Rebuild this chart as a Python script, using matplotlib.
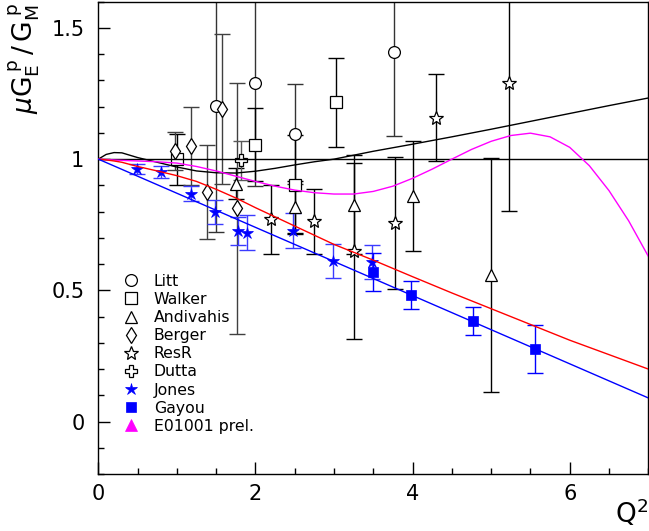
import matplotlib
matplotlib.use("Agg")
import matplotlib.pyplot as plt
from matplotlib.lines import Line2D
from matplotlib.ticker import MultipleLocator

# data
LITT_Q2 = [1.50, 2.00, 2.50, 3.76]
LITT_R = [1.202, 1.289, 1.095, 1.407]
LITT_ERR = [0.48, 0.39, 0.19, 0.318]

WALKER_Q2 = [1.00, 2.00, 2.50, 3.02]
WALKER_R = [0.999, 1.055, 0.903, 1.216]
WALKER_ERR = [0.097, 0.14, 0.19, 0.17]

ANDIVAHIS_Q2 = [1.75, 2.50, 3.25, 4.00, 5.00]
ANDIVAHIS_R = [0.907, 0.818, 0.827, 0.859, 0.557]
ANDIVAHIS_ERR = [0.06, 0.10, 0.19, 0.21, 0.446]

BERGER_Q2 = [0.98, 1.18, 1.38, 1.57, 1.76]
BERGER_R = [1.031, 1.050, 0.874, 1.190, 0.812]
BERGER_ERR = [0.071, 0.15, 0.18, 0.285, 0.477]

RESR_Q2 = [2.20, 2.75, 3.25, 3.77, 4.30, 5.23]
RESR_R = [0.770, 0.763, 0.650, 0.757, 1.158, 1.291]
RESR_ERR = [0.13, 0.125, 0.335, 0.25, 0.166, 0.49]

DUTTA_Q2 = [1.82]
DUTTA_R = [0.996]
DUTTA_ERR = [0.075]

JONES_Q2 = [0.49, 0.80, 1.18, 1.49, 1.78, 1.89, 2.48, 2.99, 3.48]
JONES_R = [0.962, 0.950, 0.869, 0.797, 0.726, 0.720, 0.727, 0.611, 0.608]
JONES_ERR = [0.02, 0.023, 0.028, 0.046, 0.053, 0.067, 0.067, 0.064, 0.064]

GAYOU_Q2 = [3.50, 3.98, 4.77, 5.56]
GAYOU_R = [0.570, 0.481, 0.384, 0.277]
GAYOU_ERR = [0.072, 0.054, 0.054, 0.091]

CURVE_Q2 = [0.0, 0.1, 0.2, 0.3, 0.5, 0.75, 1.0, 1.25, 1.5, 1.75, 2.0, 2.25, 2.5, 2.75,
            3.0, 3.5, 4.0, 4.5, 5.0, 5.5, 6.0, 6.5, 7.0]
BLACK_CURVE = [1.0, 1.018, 1.025, 1.024, 1.006, 0.988, 0.970, 0.955, 0.948, 0.947, 0.954,
               0.965, 0.978, 0.990, 1.000, 1.030, 1.057, 1.085, 1.114, 1.144, 1.174, 1.204, 1.233]
RED_CURVE = [1.0, 0.997, 0.993, 0.988, 0.972, 0.955, 0.937, 0.915, 0.885, 0.852, 0.815,
             0.780, 0.745, 0.710, 0.675, 0.615, 0.552, 0.490, 0.430, 0.370, 0.310, 0.255, 0.200]

MAGENTA_Q2 = [0.0, 0.25, 0.5, 0.75, 1.0, 1.25, 1.5, 1.75, 2.0, 2.25, 2.5, 2.75, 3.0, 3.25,
              3.5, 3.75, 4.0, 4.25, 4.5, 4.75, 5.0, 5.25, 5.5, 5.75, 6.0, 6.25, 6.5, 6.75, 7.0]
MAGENTA_CURVE = [1.0, 0.996, 0.993, 0.990, 0.985, 0.972, 0.955, 0.935, 0.915, 0.897, 0.882,
                 0.872, 0.867, 0.867, 0.877, 0.897, 0.927, 0.962, 1.000, 1.037, 1.068, 1.090,
                 1.099, 1.085, 1.045, 0.975, 0.880, 0.765, 0.630]

BLUE_Q2 = [0.0, 3.5, 7.0]
BLUE_CURVE = [1.0, 0.545, 0.09]

UNITY_Q2 = [0.0, 7.0]
UNITY = [1.0, 1.0]

LEGEND_LABELS = ["Litt", "Walker", "Andivahis", "Berger", "ResR", "Dutta", "Jones",
                 "Gayou", "E01001 prel."]

OPEN = dict(mfc="white", mec="black", mew=0.9)
STYLES = {
    "Litt": dict(marker="o", ms=8.5, **OPEN),
    "Walker": dict(marker="s", ms=8, **OPEN),
    "Andivahis": dict(marker="^", ms=9, **OPEN),
    "Berger": dict(marker="d", ms=8, **OPEN),
    "ResR": dict(marker="*", ms=10, **OPEN),
    "Dutta": dict(marker="P", ms=9, **OPEN),
    "Jones": dict(marker="*", ms=9, mfc="blue", mec="blue", mew=0.5),
    "Gayou": dict(marker="s", ms=7.5, mfc="blue", mec="blue", mew=0.5),
    "E01001 prel.": dict(marker="^", ms=8, mfc="magenta", mec="magenta", mew=0.5),
}

plt.rcParams["font.family"] = ["DejaVu Sans"]
plt.rcParams["mathtext.fontset"] = "dejavusans"

fig = plt.figure(figsize=(6.49, 5.31), dpi=100)
ax = fig.add_axes([0.1515, 0.1073, 0.8474, 0.8895])


def draw_series(name, q2, r, err, ecolor="black"):
    ax.errorbar(q2, r, yerr=err, fmt="none", ecolor=ecolor, elinewidth=1.0,
                capsize=6, capthick=1.0, zorder=2)
    ax.plot(q2, r, linestyle="none", zorder=3, **STYLES[name])


draw_series("Litt", LITT_Q2, LITT_R, LITT_ERR, ecolor="0.2")
draw_series("Walker", WALKER_Q2, WALKER_R, WALKER_ERR)
draw_series("Andivahis", ANDIVAHIS_Q2, ANDIVAHIS_R, ANDIVAHIS_ERR)
draw_series("Berger", BERGER_Q2, BERGER_R, BERGER_ERR, ecolor="0.25")
draw_series("ResR", RESR_Q2, RESR_R, RESR_ERR)
draw_series("Dutta", DUTTA_Q2, DUTTA_R, DUTTA_ERR, ecolor="0.35")
draw_series("Jones", JONES_Q2, JONES_R, JONES_ERR, ecolor="#3b3bff")
draw_series("Gayou", GAYOU_Q2, GAYOU_R, GAYOU_ERR, ecolor="blue")

ax.plot(UNITY_Q2, UNITY, color="black", lw=1.0, zorder=4)
ax.plot(CURVE_Q2, BLACK_CURVE, color="black", lw=1.0, zorder=4)
ax.plot(MAGENTA_Q2, MAGENTA_CURVE, color="magenta", lw=1.0, zorder=4)
ax.plot(CURVE_Q2, RED_CURVE, color="red", lw=1.0, zorder=4)
ax.plot(BLUE_Q2, BLUE_CURVE, color="blue", lw=1.0, zorder=4)

ax.set_xlim(0, 7)
ax.set_ylim(-0.2, 1.6)
ax.xaxis.set_major_locator(MultipleLocator(2))
ax.xaxis.set_minor_locator(MultipleLocator(0.5))
ax.yaxis.set_major_locator(MultipleLocator(0.5))
ax.yaxis.set_minor_locator(MultipleLocator(0.1))
ax.set_xticks([0, 2, 4, 6])
ax.set_xticklabels(["0", "2", "4", "6"])
ax.set_yticks([0, 0.5, 1, 1.5])
ax.set_yticklabels(["0", "0.5", "1", "1.5"])
ax.tick_params(which="both", direction="in", width=1.0, labelsize=15)
ax.tick_params(which="major", length=8.8)
ax.tick_params(which="minor", length=4.6)
ax.tick_params(axis="x", pad=7)
ax.tick_params(axis="y", pad=10)
for spine in ax.spines.values():
    spine.set_linewidth(1.0)

handles = [Line2D([0], [0], linestyle="none", **STYLES[name]) for name in LEGEND_LABELS]
leg = ax.legend(handles, LEGEND_LABELS, loc="upper left", bbox_to_anchor=(0.045, 0.424),
                frameon=False, fontsize=11.3, labelspacing=0.2, handlelength=1.0,
                handletextpad=0.95, borderaxespad=0, borderpad=0)

fig.text(24 / 649, 1 - 58 / 531,
         r"$\mu\mathrm{G}_{\mathrm{E}}^{\;\mathrm{p}}\,/\,\mathrm{G}_{\mathrm{M}}^{\;\mathrm{p}}$",
         rotation=90, ha="center", va="center", fontsize=19)
fig.text(0.998, 1 - 513 / 531, r"$\mathrm{Q}^{2}$", ha="right", va="center", fontsize=19)

fig.savefig("out.png", dpi=100)
